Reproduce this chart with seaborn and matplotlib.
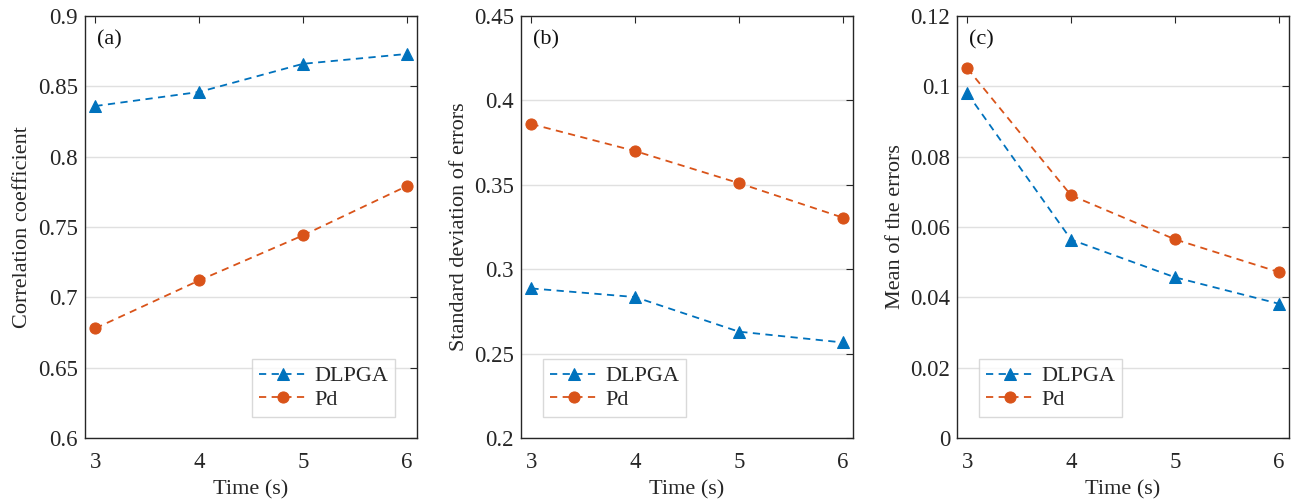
import matplotlib
matplotlib.use("Agg")
import matplotlib.pyplot as plt
import seaborn as sns
import pandas as pd

time_s = [3, 4, 5, 6]
corr_dlpga = [0.836, 0.846, 0.866, 0.873]
corr_pd = [0.678, 0.712, 0.744, 0.779]
std_dlpga = [0.2886, 0.2835, 0.263, 0.2566]
std_pd = [0.386, 0.370, 0.351, 0.3306]
mean_dlpga = [0.098, 0.0564, 0.0457, 0.0382]
mean_pd = [0.1051, 0.069, 0.0565, 0.0472]
series_names = ["DLPGA", "Pd"]
panel_labels = ["(a)", "(b)", "(c)"]
ylabels = ["Correlation coefficient", "Standard deviation of errors", "Mean of the errors"]
yticks_list = [
    [0.6, 0.65, 0.7, 0.75, 0.8, 0.85, 0.9],
    [0.2, 0.25, 0.3, 0.35, 0.4, 0.45],
    [0, 0.02, 0.04, 0.06, 0.08, 0.1, 0.12],
]
ytick_labels = [
    ["0.6", "0.65", "0.7", "0.75", "0.8", "0.85", "0.9"],
    ["0.2", "0.25", "0.3", "0.35", "0.4", "0.45"],
    ["0", "0.02", "0.04", "0.06", "0.08", "0.1", "0.12"],
]

sns.set_theme(style="white")
plt.rcParams["font.family"] = ["Liberation Serif", "DejaVu Serif"]

colors = {"DLPGA": "#0072BD", "Pd": "#D95319"}
markers = {"DLPGA": "^", "Pd": "o"}

fig = plt.figure(figsize=(13.02, 5.0), dpi=100)
lefts = [85 / 1302, 521 / 1302, 957 / 1302]
width = 332 / 1302
bottom = 62 / 500
height = 422 / 500

datasets = [
    (corr_dlpga, corr_pd),
    (std_dlpga, std_pd),
    (mean_dlpga, mean_pd),
]
legend_locs = [(0.503, 0.05), (0.067, 0.05), (0.067, 0.05)]

for i in range(3):
    ax = fig.add_axes([lefts[i], bottom, width, height])
    d1, d2 = datasets[i]
    df = pd.DataFrame({
        "Time (s)": time_s * 2,
        "value": d1 + d2,
        "series": [series_names[0]] * 4 + [series_names[1]] * 4,
    })
    for name in series_names:
        sub = df[df["series"] == name]
        sns.lineplot(data=sub, x="Time (s)", y="value", ax=ax, color=colors[name],
                     marker=markers[name], markersize=8,
                     markeredgecolor=colors[name], linestyle=(0, (4, 3)), linewidth=1.3,
                     label=name)
    ax.set_xlim(2.9, 6.1)
    ax.set_ylim(yticks_list[i][0], yticks_list[i][-1])
    ax.set_xticks(time_s)
    ax.set_xticklabels([str(t) for t in time_s])
    ax.set_yticks(yticks_list[i])
    ax.set_yticklabels(ytick_labels[i])
    ax.grid(axis="y", color="#e0e0e0", linewidth=1.0)
    ax.set_axisbelow(True)
    ax.tick_params(direction="in", length=5, width=0.8, top=True, right=True,
                   labelsize=16.5, colors="#262626", pad=5)
    ax.tick_params(axis="x", pad=10)
    for s in ax.spines.values():
        s.set_color("#262626")
        s.set_linewidth(1.0)
    ax.set_xlabel("Time (s)", fontsize=16, color="#262626", labelpad=5)
    ax.set_ylabel(ylabels[i], fontsize=16, color="#262626", labelpad=4)
    ax.text(0.036, 0.943, panel_labels[i], transform=ax.transAxes, fontsize=16,
            va="center", ha="left", color="#111111")
    lx, ly = legend_locs[i]
    leg = ax.legend(loc="lower left", bbox_to_anchor=(lx, ly), fontsize=16, frameon=True,
                    fancybox=False, edgecolor="#d0d0d0", handlelength=2.2,
                    borderpad=0.3, labelspacing=0.15, handletextpad=0.3,
                    borderaxespad=0.0)
    leg.get_frame().set_linewidth(1.0)

fig.savefig("out.png", dpi=100)
